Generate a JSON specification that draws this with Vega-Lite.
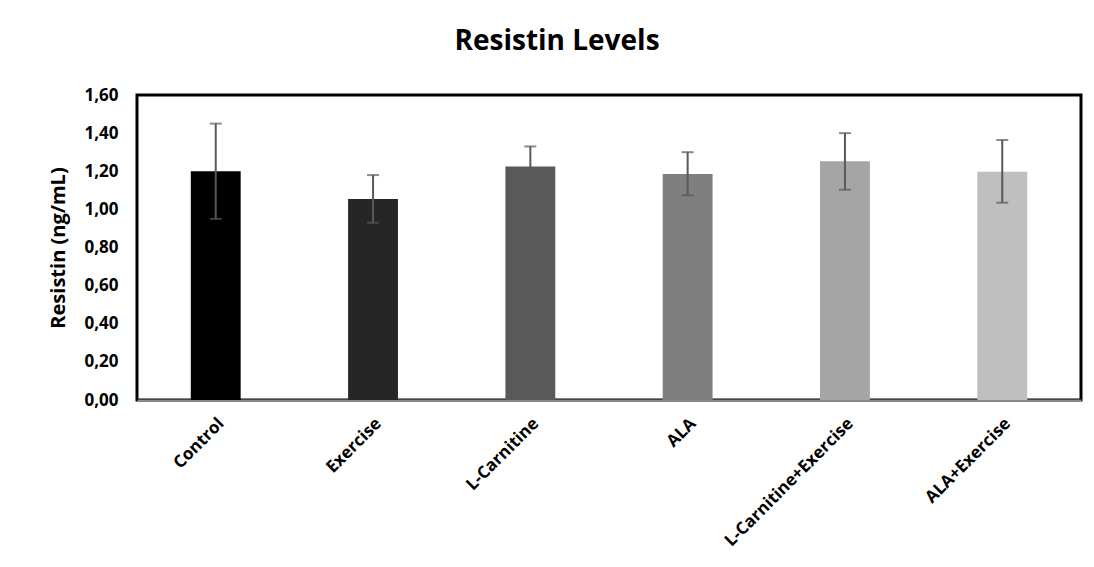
{
  "$schema": "https://vega.github.io/schema/vega-lite/v6.json",
  "autosize": "none",
  "width": 944,
  "height": 305,
  "padding": {"left": 137, "top": 95, "right": 13, "bottom": 167},
  "background": "white",
  "title": {
    "text": "Resistin Levels",
    "fontSize": 28,
    "fontWeight": "bold",
    "font": "Open Sans",
    "color": "#000000",
    "anchor": "middle",
    "frame": "group",
    "offset": 30,
    "dx": -52
  },
  "data": {
    "values": [
      {"group": "Control", "mean": 1.20, "lo": 0.95, "hi": 1.45},
      {"group": "Exercise", "mean": 1.055, "lo": 0.93, "hi": 1.18},
      {"group": "L-Carnitine", "mean": 1.225, "lo": 1.12, "hi": 1.33},
      {"group": "ALA", "mean": 1.186, "lo": 1.074, "hi": 1.30},
      {"group": "L-Carnitine+Exercise", "mean": 1.252, "lo": 1.103, "hi": 1.40},
      {"group": "ALA+Exercise", "mean": 1.198, "lo": 1.035, "hi": 1.364}
    ]
  },
  "encoding": {
    "x": {
      "field": "group",
      "type": "nominal",
      "sort": null,
      "scale": {"paddingInner": 0.683, "paddingOuter": 0.342},
      "axis": {
        "title": null,
        "labelAngle": -45,
        "labelFont": "Open Sans",
        "labelFontSize": 17,
        "labelFontWeight": "bold",
        "labelColor": "#000000",
        "labelPadding": 15,
        "labelOverlap": false,
        "ticks": false,
        "tickSize": 0,
        "domainColor": "#8c8c8c",
        "domainWidth": 2,
        "grid": false
      }
    },
    "y": {
      "field": "mean",
      "type": "quantitative",
      "scale": {"domain": [0, 1.6], "nice": false},
      "axis": {
        "title": "Resistin (ng/mL)",
        "titleFont": "Open Sans",
        "titleFontSize": 20,
        "titleFontWeight": "bold",
        "titleColor": "#000000",
        "titleX": -79,
        "titleY": 152.5,
        "titleBaseline": "middle",
        "values": [0, 0.2, 0.4, 0.6, 0.8, 1.0, 1.2, 1.4, 1.6],
        "labelExpr": "replace(format(datum.value, '.2f'), '.', ',')",
        "labelFont": "Open Sans",
        "labelFontSize": 17,
        "labelFontWeight": "bold",
        "labelColor": "#000000",
        "labelPadding": 19,
        "labelOverlap": false,
        "ticks": false,
        "tickSize": 0,
        "domain": false,
        "grid": false
      }
    }
  },
  "layer": [
    {
      "mark": {"type": "bar", "stroke": null},
      "encoding": {
        "color": {
          "field": "group",
          "type": "nominal",
          "sort": null,
          "scale": {
            "domain": ["Control", "Exercise", "L-Carnitine", "ALA", "L-Carnitine+Exercise", "ALA+Exercise"],
            "range": ["#000000", "#262626", "#595959", "#7f7f7f", "#a5a5a5", "#bfbfbf"]
          },
          "legend": null
        }
      }
    },
    {
      "mark": {"type": "rule", "color": "#595959", "strokeWidth": 2},
      "encoding": {
        "y": {"field": "lo", "type": "quantitative"},
        "y2": {"field": "hi"}
      }
    },
    {
      "mark": {"type": "tick", "orient": "horizontal", "color": "#595959", "size": 12, "thickness": 2},
      "encoding": {
        "y": {"field": "lo", "type": "quantitative"}
      }
    },
    {
      "mark": {"type": "tick", "orient": "horizontal", "color": "#595959", "size": 12, "thickness": 2},
      "encoding": {
        "y": {"field": "hi", "type": "quantitative"}
      }
    }
  ],
  "config": {
    "view": {"stroke": "#000000", "strokeWidth": 3},
    "axis": {"labelOverlap": false},
    "font": "Open Sans"
  }
}
